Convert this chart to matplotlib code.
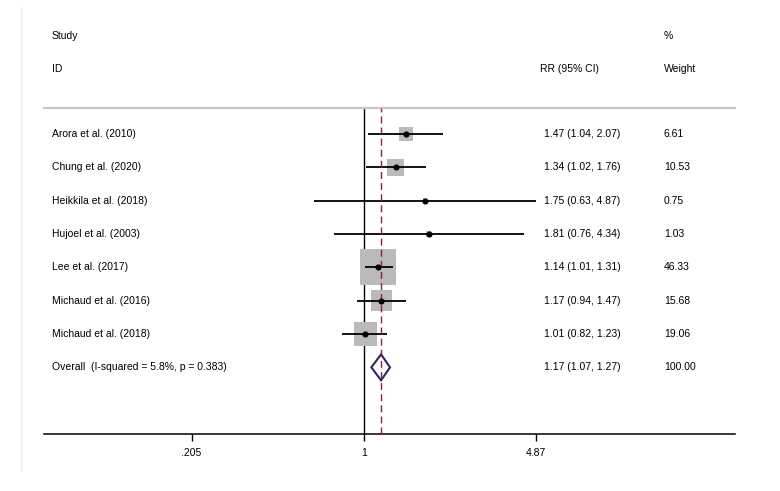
import numpy as np
import matplotlib
matplotlib.use("Agg")
import matplotlib.pyplot as plt
from matplotlib.lines import Line2D
from matplotlib.patches import Polygon
import matplotlib.transforms as mtransforms

plt.rcParams["font.family"] = ["Liberation Sans", "DejaVu Sans"]

studies = ["Arora et al. (2010)", "Chung et al. (2020)", "Heikkila et al. (2018)",
           "Hujoel et al. (2003)", "Lee et al. (2017)", "Michaud et al. (2016)",
           "Michaud et al. (2018)"]
rr = [1.47, 1.34, 1.75, 1.81, 1.14, 1.17, 1.01]
lo = [1.04, 1.02, 0.63, 0.76, 1.01, 0.94, 0.82]
hi = [2.07, 1.76, 4.87, 4.34, 1.31, 1.47, 1.23]
weights = [6.61, 10.53, 0.75, 1.03, 46.33, 15.68, 19.06]

overall_label = "Overall  (I-squared = 5.8%, p = 0.383)"
overall_rr, overall_lo, overall_hi = 1.17, 1.07, 1.27
overall_weight = 100.00

xticks = [0.205, 1, 4.87]
xticklabels = [".205", "1", "4.87"]

W, H = 780, 491
fig = plt.figure(figsize=(W / 100, H / 100), dpi=100)
ax = fig.add_axes([44 / W, (H - 434) / H, (735 - 44) / W, (434 - 108) / H])
ax.set_xscale("log")
ax.set_xlim(0.0528, 30.26)
ax.set_ylim(9.0, -0.78)

fs = 7.5
n = len(studies)
rows = np.arange(n)
max_w = max(weights)

# reference lines
ax.axvline(1, color="black", lw=1.0, zorder=1)
ax.axvline(overall_rr, color="#8b2040", lw=1.0, dashes=(5, 3), zorder=4)

# weight boxes
sizes = [(25.9 * np.sqrt(w / max_w)) ** 2 for w in weights]
ax.scatter(rr, rows, s=sizes, marker="s", color="#bababa", edgecolors="none", zorder=2)

# confidence intervals and point estimates
ax.hlines(rows, lo, hi, color="black", lw=1.3, zorder=3)
ax.plot(rr, rows, "o", color="black", ms=3.4, zorder=5)

# pooled diamond
yo = n
hh = 0.39
diamond = Polygon([(overall_lo, yo), (overall_rr, yo - hh), (overall_hi, yo), (overall_rr, yo + hh)],
                  closed=True, facecolor="white", edgecolor="#2d2566", lw=1.5, zorder=3)
ax.add_patch(diamond)

# axis styling
for s in ["left", "right"]:
    ax.spines[s].set_visible(False)
ax.spines["top"].set_color("#c8c8c8")
ax.spines["top"].set_linewidth(1.6)
ax.spines["bottom"].set_linewidth(1.1)
ax.set_yticks([])
ax.set_xticks(xticks)
ax.set_xticklabels(xticklabels, fontsize=fs)
ax.xaxis.set_minor_locator(matplotlib.ticker.NullLocator())
ax.tick_params(axis="x", direction="out", length=5, width=1, pad=5)

# text columns
tr = mtransforms.blended_transform_factory(ax.transAxes, ax.transData)
x_lab, x_rr_head, x_rr, x_w = 0.0116, 0.718, 0.724, 0.897
for i, name in enumerate(studies):
    ax.text(x_lab, i, name, transform=tr, fontsize=fs, va="center", ha="left")
    ax.text(x_rr, i, f"{rr[i]:.2f} ({lo[i]:.2f}, {hi[i]:.2f})", transform=tr,
            fontsize=fs, va="center", ha="left")
    ax.text(x_w, i, f"{weights[i]:.2f}", transform=tr, fontsize=fs, va="center", ha="left")
ax.text(x_lab, yo, overall_label, transform=tr, fontsize=fs, va="center", ha="left")
ax.text(x_rr, yo, f"{overall_rr:.2f} ({overall_lo:.2f}, {overall_hi:.2f})", transform=tr,
        fontsize=fs, va="center", ha="left")
ax.text(x_w, yo, f"{overall_weight:.2f}", transform=tr, fontsize=fs, va="center", ha="left")

# headers
y_h1, y_h2 = -2.94, -1.95
ax.text(x_lab, y_h1, "Study", transform=tr, fontsize=fs, va="center", ha="left", clip_on=False)
ax.text(x_lab, y_h2, "ID", transform=tr, fontsize=fs, va="center", ha="left", clip_on=False)
ax.text(x_rr_head, y_h2, "RR (95% CI)", transform=tr, fontsize=fs, va="center", ha="left", clip_on=False)
ax.text(x_w, y_h1, "%", transform=tr, fontsize=fs, va="center", ha="left", clip_on=False)
ax.text(x_w, y_h2, "Weight", transform=tr, fontsize=fs, va="center", ha="left", clip_on=False)

# faint frame edge on the left
fig.add_artist(Line2D([20.5 / W, 20.5 / W], [1 - 7 / H, 1 - 470 / H], color="#ececec", lw=1))

fig.savefig("out.png", dpi=100, facecolor="white")
